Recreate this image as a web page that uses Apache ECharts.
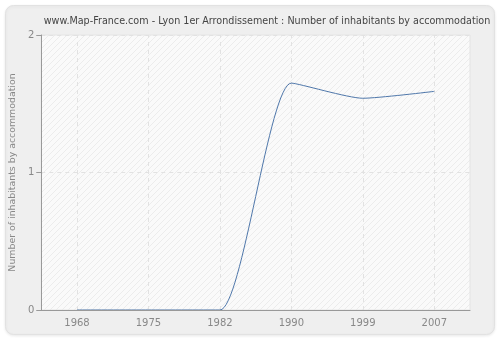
<!DOCTYPE html>
<html><head><meta charset="utf-8">
<script src="https://cdn.jsdelivr.net/npm/echarts@6/dist/echarts.min.js"></script>
<style>html,body{margin:0;padding:0;background:#fff}#c{width:500px;height:340px}</style>
</head><body><div id="c"></div>
<script>
var years = ['1968','1975','1982','1990','1999','2007'];
var inhabitants = [0, 0, 0, 1.65, 1.54, 1.59];
var yTicks = [0, 1, 2];

var pc = document.createElement('canvas');
pc.width = 6; pc.height = 6;
var g = pc.getContext('2d');
g.fillStyle = '#fafafa'; g.fillRect(0,0,6,6);
g.strokeStyle = '#ececec'; g.lineWidth = 1;
g.beginPath(); g.moveTo(0,6); g.lineTo(6,0); g.moveTo(-3,3); g.lineTo(3,-3); g.moveTo(3,9); g.lineTo(9,3); g.stroke();

var chart = echarts.init(document.getElementById('c'), null, {renderer:'canvas'});
chart.setOption({
  animation: false,
  backgroundColor: '#fff',
  graphic: [{type:'rect', z:-10, shape:{x:5.5,y:5.5,width:489,height:329,r:8}, style:{fill:'#efefef', stroke:'#e2e2e2', lineWidth:1, shadowColor:'rgba(0,0,0,0.08)', shadowBlur:3, shadowOffsetY:1}}],
  title: {text:'www.Map-France.com - Lyon 1er Arrondissement : Number of inhabitants by accommodation', left:262, textAlign:'center', top:11,
    textStyle:{fontFamily:'DejaVu Sans', fontSize:9.6, fontWeight:'normal', color:'#444'}},
  grid: {left:40, right:30, top:35, bottom:30, show:true, backgroundColor:{image:pc, repeat:'repeat'}, borderColor:'#e4e4e4', borderWidth:1},
  xAxis: {type:'category', data:years, boundaryGap:true, z:5,
    axisLine:{lineStyle:{color:'#999'}}, axisTick:{alignWithLabel:true, length:5, lineStyle:{color:'#999'}},
    axisLabel:{fontFamily:'DejaVu Sans', fontSize:10, color:'#888', margin:8},
    splitLine:{show:false}},
  yAxis: {type:'value', min:yTicks[0], max:yTicks[yTicks.length-1], interval:1,
    name:'Number of inhabitants by accommodation', nameLocation:'middle', nameGap:24,
    nameTextStyle:{fontFamily:'DejaVu Sans', fontSize:9.4, color:'#888'},
    axisLine:{show:true, lineStyle:{color:'#999'}}, axisTick:{show:true, length:5, lineStyle:{color:'#999'}},
    axisLabel:{fontFamily:'DejaVu Sans', fontSize:10, color:'#888', margin:7},
    splitLine:{show:true, lineStyle:{color:'#e2e2e2', type:[4,4]}}},
  series: [{type:'line', data:inhabitants, smooth:0.2, symbol:'none', clip:true,
    lineStyle:{color:'#4f77aa', width:1},
    markLine:{silent:true, symbol:'none', z:1, label:{show:false},
      lineStyle:{color:'#e2e2e2', type:[4,4], width:1},
      data: years.map(function(y){ return {xAxis:y}; })}}]
});
</script></body></html>
